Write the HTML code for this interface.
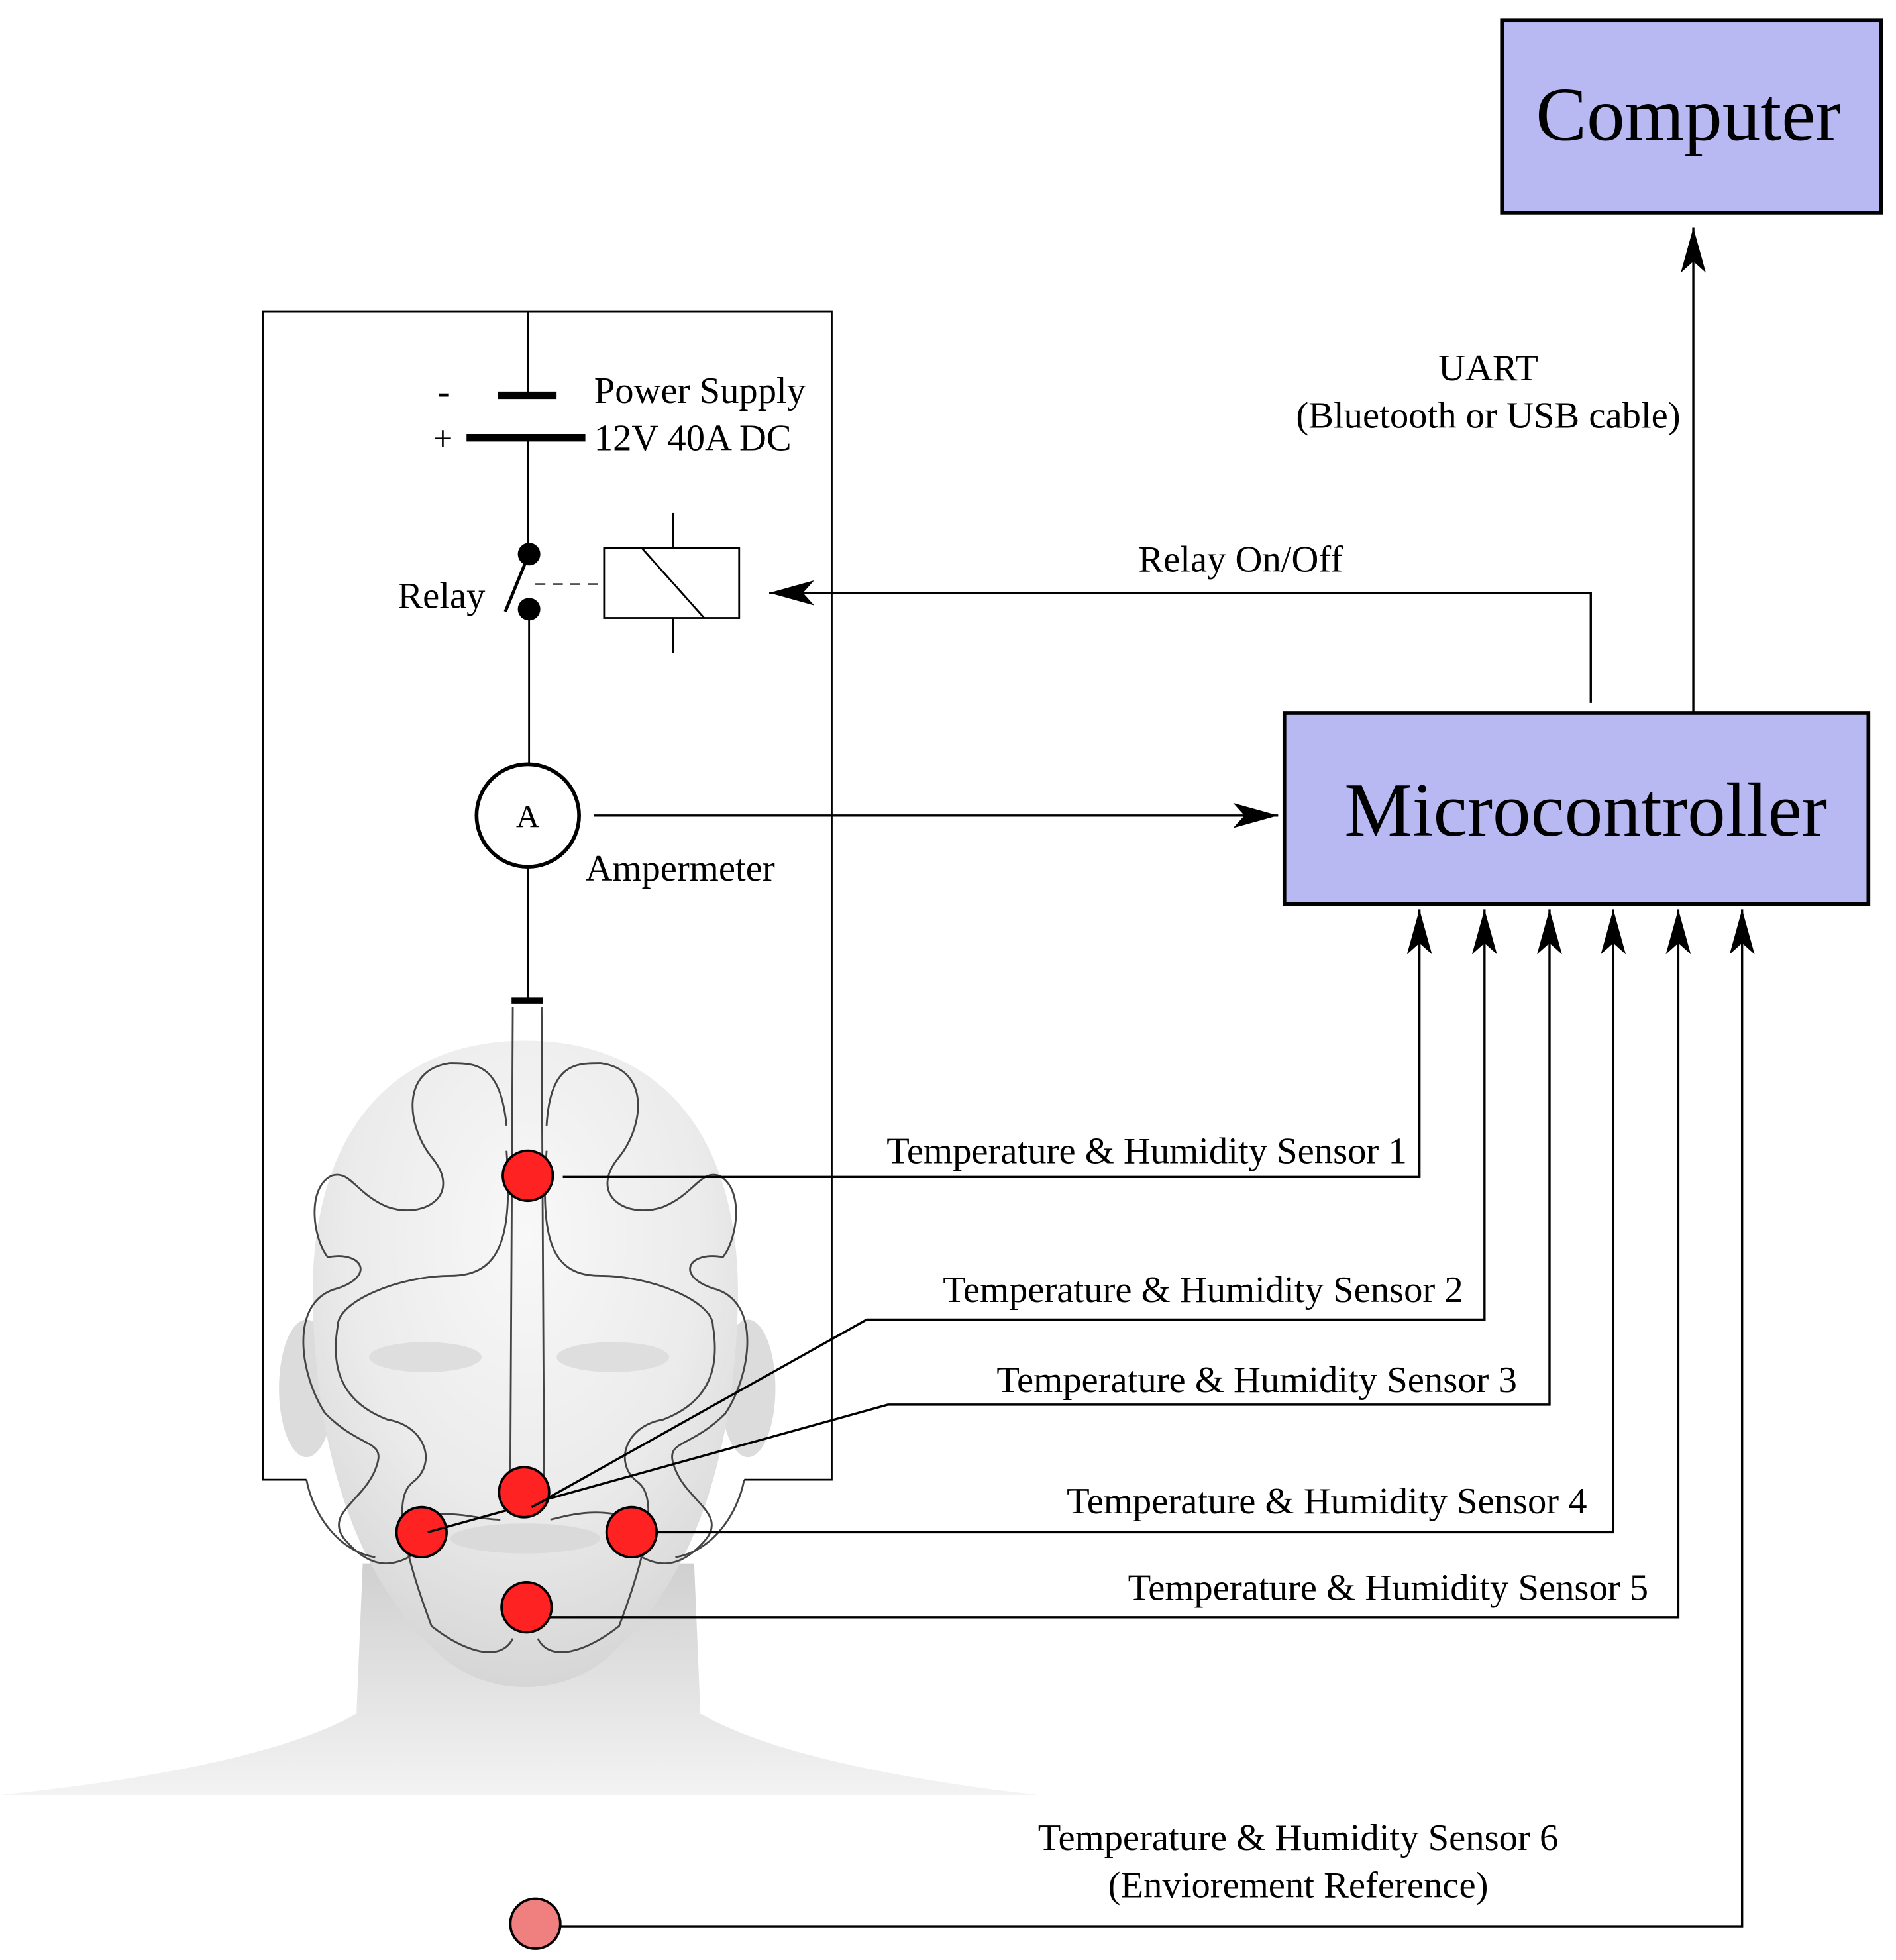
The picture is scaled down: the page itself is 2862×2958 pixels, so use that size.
<!DOCTYPE html>
<html><head><meta charset="utf-8"><style>
html,body{margin:0;padding:0;background:#fff}
svg{display:block}
text{font-family:"Liberation Serif",serif;fill:#000}
</style></head><body>
<svg width="2862" height="2958" viewBox="0 0 1516 1567" xmlns="http://www.w3.org/2000/svg">
<defs>
<radialGradient id="hg" cx="0.5" cy="0.3" r="0.7">
<stop offset="0" stop-color="#f8f8f8"/><stop offset="0.6" stop-color="#ebebeb"/><stop offset="1" stop-color="#d6d6d6"/>
</radialGradient>
<linearGradient id="ng" x1="0" y1="0" x2="0" y2="1">
<stop offset="0" stop-color="#d0d0d0"/><stop offset="1" stop-color="#f3f3f3"/>
</linearGradient>
<marker id="ah" markerWidth="40" markerHeight="20" refX="36" refY="10" orient="auto" markerUnits="userSpaceOnUse">
<path d="M0,0 L36,10 L0,20 L9,10 Z" fill="#000"/>
</marker>
</defs>

<!-- Head -->
<path d="M290,1250 L555,1250 L560,1370 C620,1405 740,1425 830,1435 L0,1435 C100,1425 225,1405 285,1370 Z" fill="url(#ng)"/>
<ellipse cx="245" cy="1110" rx="22" ry="55" fill="#dcdcdc"/>
<ellipse cx="598" cy="1110" rx="22" ry="55" fill="#dcdcdc"/>
<path d="M420,832 C530,832 592,910 590,1040 C588,1140 565,1260 480,1330 C445,1355 395,1355 360,1330 C275,1260 252,1140 250,1040 C248,910 310,832 420,832 Z" fill="url(#hg)"/>
<ellipse cx="340" cy="1085" rx="45" ry="12" fill="#dedede"/>
<ellipse cx="490" cy="1085" rx="45" ry="12" fill="#dedede"/>
<ellipse cx="420" cy="1230" rx="60" ry="12" fill="#dadada"/>

<!-- heater traces -->
<g fill="none" stroke="#444" stroke-width="1.5">
<path d="M410,805 L408,1180 M433,805 L435,1180"/>
<path d="M405,900 C400,850 380,850 360,850 C320,855 325,900 345,925 C370,955 340,975 310,965 C285,955 280,935 265,940 C245,950 250,990 262,1005 C290,1000 300,1020 270,1030 C230,1040 240,1100 260,1130 C290,1160 310,1150 300,1175 C290,1200 260,1210 275,1230 C300,1260 320,1250 335,1240"/>
<path d="M405,920 C410,990 400,1020 360,1020 C320,1020 270,1040 270,1060 C265,1090 270,1120 310,1135 C340,1140 350,1170 330,1185 C310,1200 330,1260 345,1300 C370,1320 400,1330 410,1310"/>
<path d="M437,900 C440,850 460,850 480,850 C520,855 515,900 495,925 C470,955 500,975 530,965 C555,955 560,935 575,940 C595,950 590,990 578,1005 C550,1000 540,1020 570,1030 C610,1040 600,1100 580,1130 C550,1160 530,1150 540,1175 C550,1200 580,1210 565,1230 C540,1260 520,1250 505,1240"/>
<path d="M437,920 C432,990 440,1020 480,1020 C520,1020 570,1040 570,1060 C575,1090 570,1120 530,1135 C500,1140 490,1170 510,1185 C530,1200 510,1260 495,1300 C470,1320 440,1330 430,1310"/>
<path d="M330,1215 C360,1205 380,1215 400,1215 M440,1215 C460,1210 480,1205 510,1215"/>
<path d="M245,1183 C250,1210 270,1240 300,1245 M595,1183 C590,1210 570,1240 540,1245"/>
</g>

<!-- circuit box -->
<g stroke="#000" fill="none" stroke-width="1.5">
<path d="M245,1183 L210,1183 L210,249 L665,249 L665,1183 L595,1183"/>
<line x1="422" y1="249" x2="422" y2="316"/>
<line x1="422" y1="350" x2="422" y2="438"/>
<line x1="423" y1="487" x2="423" y2="611"/>
<line x1="422" y1="693" x2="422" y2="800"/>
<rect x="483" y="438" width="108" height="56"/>
<line x1="513" y1="438" x2="563" y2="494"/>
<line x1="538" y1="410" x2="538" y2="438"/>
<line x1="538" y1="494" x2="538" y2="522"/>
<line x1="428" y1="467" x2="480" y2="467" stroke-dasharray="8,6" stroke="#555"/>
<line x1="404" y1="489" x2="420" y2="450" stroke-width="2.5"/>
<circle cx="422" cy="652" r="41" stroke-width="3" fill="#fff"/>
</g>
<line x1="398" y1="316" x2="445" y2="316" stroke="#000" stroke-width="6"/>
<line x1="373" y1="350" x2="468" y2="350" stroke="#000" stroke-width="6"/>
<line x1="409" y1="800" x2="434" y2="800" stroke="#000" stroke-width="5"/>
<circle cx="423" cy="443" r="9" fill="#000"/>
<circle cx="423" cy="487" r="9" fill="#000"/>
<text x="355" y="323" font-size="30" text-anchor="middle" font-weight="bold">-</text>
<text x="354" y="360" font-size="28" text-anchor="middle">+</text>
<text x="475" y="322" font-size="30">Power Supply</text>
<text x="475" y="360" font-size="30">12V 40A DC</text>
<text x="318" y="486" font-size="30">Relay</text>
<text x="422" y="661" font-size="26" text-anchor="middle">A</text>
<text x="468" y="704" font-size="30">Ampermeter</text>

<!-- boxes -->
<rect x="1201" y="16" width="303" height="154" fill="#b8b8f2" stroke="#000" stroke-width="3"/>
<text x="1350" y="112" font-size="61" text-anchor="middle">Computer</text>
<rect x="1027" y="570" width="467" height="153" fill="#b8b8f2" stroke="#000" stroke-width="3"/>
<text x="1268" y="668" font-size="61" text-anchor="middle">Microcontroller</text>

<!-- connectors -->
<g stroke="#000" fill="none" stroke-width="1.8">
<line x1="1354" y1="570" x2="1354" y2="182" marker-end="url(#ah)"/>
<polyline points="1272,562 1272,474 615,474" marker-end="url(#ah)"/>
<line x1="475" y1="652" x2="1022" y2="652" marker-end="url(#ah)"/>
<polyline points="450,941 1135,941 1135,727" marker-end="url(#ah)"/>
<polyline points="425,1205 693,1055 1187,1055 1187,727" marker-end="url(#ah)"/>
<polyline points="342,1225 710,1123 1239,1123 1239,727" marker-end="url(#ah)"/>
<polyline points="522,1225 1290,1225 1290,727" marker-end="url(#ah)"/>
<polyline points="440,1293 1342,1293 1342,727" marker-end="url(#ah)"/>
<polyline points="448,1540 1393,1540 1393,727" marker-end="url(#ah)"/>
</g>

<!-- sensors -->
<g stroke="#000" stroke-width="2" fill="#f22">
<circle cx="422" cy="940" r="20"/>
<circle cx="419" cy="1193" r="20"/>
<circle cx="337" cy="1225" r="20"/>
<circle cx="505" cy="1225" r="20"/>
<circle cx="421" cy="1285" r="20"/>
<circle cx="428" cy="1538" r="20" fill="#f08080"/>
</g>
<g stroke="#000" stroke-width="1.8" fill="none">
<line x1="425" y1="1205" x2="440" y2="1197"/>
<line x1="342" y1="1225" x2="360" y2="1220"/>
</g>

<!-- labels -->
<g font-size="30">
<text x="1190" y="304" text-anchor="middle">UART</text>
<text x="1190" y="342" text-anchor="middle">(Bluetooth or USB cable)</text>
<text x="992" y="457" text-anchor="middle">Relay On/Off</text>
<text x="1125" y="930" text-anchor="end">Temperature &amp; Humidity Sensor 1</text>
<text x="1170" y="1041" text-anchor="end">Temperature &amp; Humidity Sensor 2</text>
<text x="1213" y="1113" text-anchor="end">Temperature &amp; Humidity Sensor 3</text>
<text x="1269" y="1210" text-anchor="end">Temperature &amp; Humidity Sensor 4</text>
<text x="1318" y="1279" text-anchor="end">Temperature &amp; Humidity Sensor 5</text>
<text x="1038" y="1479" text-anchor="middle">Temperature &amp; Humidity Sensor 6</text>
<text x="1038" y="1517" text-anchor="middle">(Enviorement Reference)</text>
</g>
</svg>
</body></html>
